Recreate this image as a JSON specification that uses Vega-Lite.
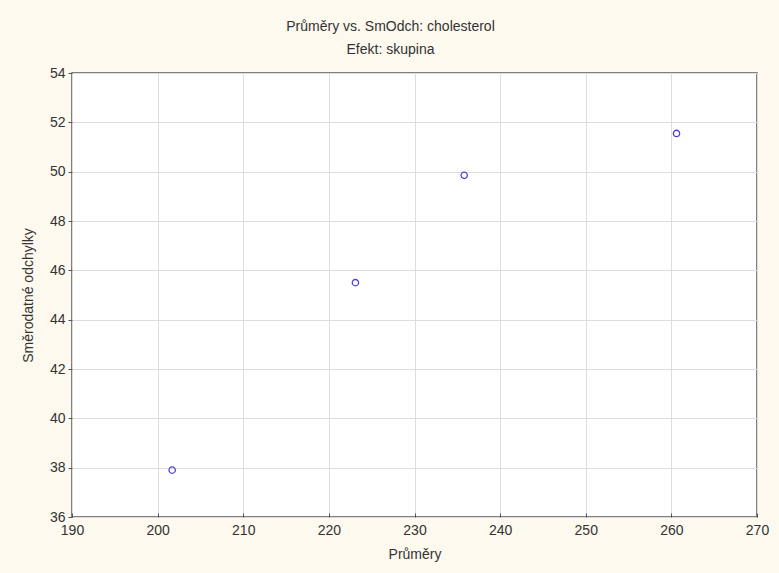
{
  "$schema": "https://vega.github.io/schema/vega-lite/v6.json",
  "autosize": "none",
  "width": 685,
  "height": 444,
  "padding": {"left": 72, "top": 73, "right": 22, "bottom": 56},
  "background": "#fdf9ef",
  "view": {"fill": "white", "stroke": "#555555", "strokeWidth": 1.5},
  "title": {
    "text": "Průměry vs. SmOdch: cholesterol",
    "subtitle": "Efekt: skupina",
    "font": "Liberation Sans",
    "subtitleFont": "Liberation Sans",
    "fontSize": 14,
    "subtitleFontSize": 14,
    "fontWeight": "normal",
    "color": "#333333",
    "subtitleColor": "#333333",
    "subtitlePadding": 9,
    "anchor": "middle",
    "dx": -24,
    "offset": 9
  },
  "data": {
    "values": [
      {"prumer": 201.7, "smodch": 37.9},
      {"prumer": 223.1, "smodch": 45.5},
      {"prumer": 235.8, "smodch": 49.85},
      {"prumer": 260.6, "smodch": 51.55}
    ]
  },
  "mark": {"type": "point", "shape": "circle", "filled": false, "stroke": "#4b3fe0", "strokeWidth": 1.3, "size": 40, "opacity": 1},
  "encoding": {
    "x": {
      "field": "prumer",
      "type": "quantitative",
      "title": "Průměry",
      "scale": {"domain": [190, 270], "nice": false, "zero": false},
      "axis": {"values": [190, 200, 210, 220, 230, 240, 250, 260, 270], "labelFlush": false, "grid": true, "gridColor": "#dddddd", "domain": false, "tickColor": "#555555", "tickSize": -4, "labelPadding": 10, "labelFont": "Liberation Sans", "labelFontSize": 14, "labelColor": "#333333", "titleFont": "Liberation Sans", "titleFontSize": 14, "titleFontWeight": "normal", "titleColor": "#333333", "titlePadding": 10}
    },
    "y": {
      "field": "smodch",
      "type": "quantitative",
      "title": "Směrodatné odchylky",
      "scale": {"domain": [36, 54], "nice": false, "zero": false},
      "axis": {"values": [36, 38, 40, 42, 44, 46, 48, 50, 52, 54], "labelFlush": false, "grid": true, "gridColor": "#dddddd", "domain": false, "tickColor": "#555555", "tickSize": 4, "labelPadding": 3, "labelFont": "Liberation Sans", "labelFontSize": 14, "labelColor": "#333333", "titleFont": "Liberation Sans", "titleFontSize": 14, "titleFontWeight": "normal", "titleColor": "#333333", "titlePadding": 14}
    }
  }
}
